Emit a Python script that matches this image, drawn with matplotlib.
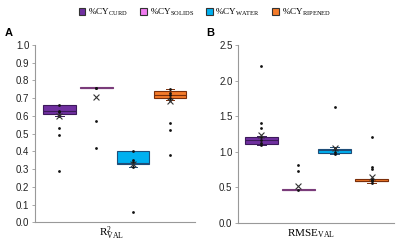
import matplotlib
matplotlib.use("Agg")
import matplotlib.pyplot as plt
from matplotlib.patches import Patch

groups = ['CURD', 'SOLIDS', 'WATER', 'RIPENED']
colors = ['#7030A0', '#F07CF0', '#00B0F0', '#F47B2A']
edges = ['#3C1A5A', '#7A3C7A', '#1F4E79', '#7A2E0A']

# Panel A: R2_VAL
r2_q1 = [0.61, 0.755, 0.33, 0.70]
r2_med = [0.63, 0.76, 0.335, 0.72]
r2_q3 = [0.66, 0.762, 0.40, 0.74]
r2_wlo = [0.60, 0.755, 0.31, 0.69]
r2_whi = [0.66, 0.762, 0.40, 0.75]
r2_mean = [0.60, 0.705, 0.33, 0.685]
r2_points = [[0.66, 0.63, 0.62, 0.60, 0.53, 0.49, 0.29],
             [0.76, 0.755, 0.57, 0.42],
             [0.40, 0.35, 0.34, 0.31, 0.06],
             [0.75, 0.73, 0.72, 0.70, 0.69, 0.56, 0.52, 0.38]]

# Panel B: RMSE_VAL
rm_q1 = [1.11, 0.455, 0.98, 0.58]
rm_med = [1.16, 0.46, 1.02, 0.59]
rm_q3 = [1.20, 0.47, 1.04, 0.61]
rm_wlo = [1.09, 0.455, 0.97, 0.56]
rm_whi = [1.22, 0.47, 1.06, 0.62]
rm_mean = [1.24, 0.51, 1.05, 0.64]
rm_points = [[2.21, 1.40, 1.33, 1.20, 1.16, 1.12, 1.09],
             [0.81, 0.73, 0.46],
             [1.63, 1.05, 1.03, 1.00, 0.97],
             [1.21, 0.78, 0.75, 0.62, 0.60, 0.58, 0.56]]

plt.rcParams['font.family'] = ['Liberation Sans', 'DejaVu Sans']
plt.rcParams['mathtext.fontset'] = 'custom'
plt.rcParams['mathtext.rm'] = 'Liberation Serif'
plt.rcParams['mathtext.it'] = 'Liberation Serif:italic'

fig = plt.figure(figsize=(4.0, 2.42), dpi=100)
axA = fig.add_axes([0.0875, 0.081, 0.40, 0.733])
axB = fig.add_axes([0.595, 0.080, 0.39, 0.734])


def draw(ax, q1, med, q3, wlo, whi, mean, pts, ylim, yticks, fmt, xlim, width):
    stats = []
    for i in range(4):
        stats.append(dict(q1=q1[i], med=med[i], q3=q3[i], whislo=wlo[i],
                          whishi=whi[i], mean=mean[i], fliers=[]))
    pos = [1, 2, 3, 4]
    bp = ax.bxp(stats, positions=pos, widths=width, patch_artist=True,
                showmeans=False, showfliers=False, showcaps=True)
    for i, b in enumerate(bp['boxes']):
        b.set_facecolor(colors[i])
        b.set_edgecolor(edges[i])
        b.set_linewidth(0.8)
    for i, m in enumerate(bp['medians']):
        m.set_color(edges[i])
        m.set_linewidth(0.8)
    for i in range(4):
        for w in bp['whiskers'][2 * i:2 * i + 2]:
            w.set_color(edges[i]); w.set_linewidth(0.7)
        for c in bp['caps'][2 * i:2 * i + 2]:
            c.set_color(edges[i]); c.set_linewidth(0.7)
            c.set_xdata([pos[i] - 0.12, pos[i] + 0.12])
    for i in range(4):
        ax.scatter([pos[i]] * len(pts[i]), pts[i], s=4, color='#111111', zorder=4, linewidths=0)
        ax.scatter([pos[i]], [mean[i]], marker='x', s=18, color='#333333', linewidths=0.8, zorder=5)
    ax.set_xlim(*xlim)
    ax.set_ylim(*ylim)
    ax.set_yticks(yticks)
    ax.set_yticklabels([fmt.format(t) for t in yticks], fontsize=7, color='#222222')
    ax.set_xticks([])
    for s in ['top', 'right']:
        ax.spines[s].set_visible(False)
    for s in ['left', 'bottom']:
        ax.spines[s].set_color('#999999')
        ax.spines[s].set_linewidth(0.8)
    ax.tick_params(axis='y', length=2, width=0.6, color='#999999', pad=2)


draw(axA, r2_q1, r2_med, r2_q3, r2_wlo, r2_whi, r2_mean, r2_points,
     (0, 1.0), [i / 10 for i in range(11)], '{:.1f}', (0.34, 4.68), 0.89)
draw(axB, rm_q1, rm_med, rm_q3, rm_wlo, rm_whi, rm_mean, rm_points,
     (0, 2.5), [0, 0.5, 1.0, 1.5, 2.0, 2.5], '{:.1f}', (0.36, 4.61), 0.9)

axA.text(0.48, -0.06, r'$\mathrm{R^{2}_{VAL}}$', transform=axA.transAxes,
         ha='center', va='center', fontsize=8)
axB.text(0.47, -0.06, r'$\mathrm{RMSE_{VAL}}$', transform=axB.transAxes,
         ha='center', va='center', fontsize=8)

fig.text(0.0125, 0.865, 'A', fontsize=8, fontweight='bold', ha='left', va='center')
fig.text(0.515, 0.865, 'B', fontsize=8, fontweight='bold', ha='left', va='center')

handles = [Patch(facecolor=colors[i], edgecolor='#333333', linewidth=0.8) for i in range(4)]
labels = [r'$\mathrm{\%CY_{' + g + r'}}$' for g in groups]
fig.legend(handles, labels, loc='center', bbox_to_anchor=(0.512, 0.95), ncol=4,
           frameon=False, fontsize=6.6, handlelength=0.75, handleheight=0.9,
           handletextpad=0.3, columnspacing=1.3, borderaxespad=0)

fig.savefig('out.png', dpi=100)
